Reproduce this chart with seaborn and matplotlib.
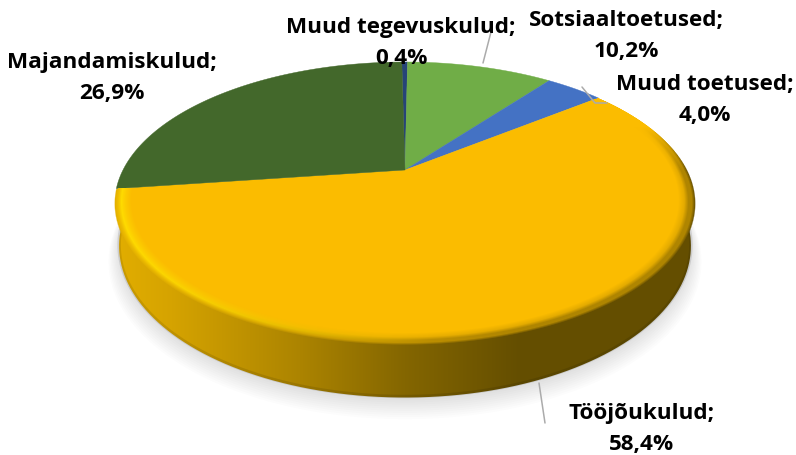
import matplotlib
matplotlib.use("Agg")
import matplotlib.pyplot as plt
import matplotlib.colors as mc
from matplotlib.patches import PathPatch
from matplotlib.path import Path
import numpy as np
import seaborn as sns

names = ["Muud tegevuskulud", "Sotsiaaltoetused", "Muud toetused", "Tööjõukulud", "Majandamiskulud"]
values = [0.4, 10.2, 4.0, 58.4, 26.9]
labels = ["0,4%", "10,2%", "4,0%", "58,4%", "26,9%"]
colors = ["#264478", "#70AD47", "#4472C4", "#FBBC00", "#43682B"]
label_pos = [(401, 43), (626, 36), (705, 100), (642, 429), (112, 78)]

sns.set_theme(style="white")
plt.rcParams["font.family"] = ["Open Sans", "DejaVu Sans"]

# pie geometry, in pixels of the picture
cx, cy = 405, 170
rx, ry, k = 282, 133.6, 0.237
depth = 40
start = np.radians(-0.8)
W, H = 796, 455

def project(a, r=1.0, d=0.0):
    # a = angle clockwise from 12 o'clock, perspective gets smaller towards the back
    u, v = r * np.sin(a), r * np.cos(a)
    s = 1 / (1 + k * v)
    shrink = 1 - 0.015 * d
    return cx + rx * u * s * shrink, cy - ry * v * s + depth * d * s

def side_color(x):
    f = np.clip((x - 114) / 581, 0, 1)
    xs = [0, 0.1, 0.32, 0.5, 0.7, 1]
    cs = np.array([mc.to_rgb(c) for c in ["#E2AE00", "#D5A300", "#AC8400", "#846600", "#644E00", "#644E00"]])
    return np.stack([np.interp(f, xs, cs[:, i]) for i in range(3)], axis=-1)

fig = plt.figure(figsize=(7.96, 4.55), dpi=100)
ax = fig.add_axes([0, 0, 1, 1])

edges = start + 2 * np.pi * np.cumsum([0] + values) / np.sum(values)
a0, a1 = edges[3], edges[4]

# soft shadow below the pie
full = np.linspace(0, 2 * np.pi, 361)
for grow, shift in zip(np.linspace(1.035, 1.0, 10), np.linspace(13, 3, 10)):
    u, v = project(full, grow, 1.0)
    ax.fill(u, v + shift, color="#000000", alpha=0.012, lw=0, zorder=1)

# rim of the big slice: horizontal gradient clipped to the rim outline
# (starts a bit inside the top face so no gap shows between them)
t = np.linspace(a0, a1, 400)
xt, yt = project(t, 0.96)
xb, yb = project(t, 1.0, 1.0)
rim_x = np.r_[xt, xb[::-1]]
rim_y = np.r_[yt, yb[::-1]]
rim = PathPatch(Path(np.c_[rim_x, rim_y]), facecolor="none", edgecolor="none", transform=ax.transData)
ax.add_patch(rim)
grad = side_color(np.arange(W) + 0.5)[None, :, :]
im = ax.imshow(grad, extent=(0, W, H, 0), aspect="auto", interpolation="nearest", zorder=2)
im.set_clip_path(rim)
# darker line along the bottom of the rim
ax.plot(xb, yb - 1, color="black", alpha=0.1, lw=2.5, zorder=2.5)

# top face
for i in range(len(values)):
    a = np.linspace(edges[i], edges[i + 1], 200)
    # the big slice stops short of the edge, the bevel image below covers the rest
    x, y = project(a, 0.985 if i == 3 else 1.0)
    ax.fill(np.r_[cx, x], np.r_[cy, y], color=colors[i], lw=0.3, zorder=3)

# bevel along the edge of the big slice, worked out per pixel of the picture
px, py = np.meshgrid(np.arange(W) + 0.5, np.arange(H) + 0.5)
gx, gy = (px - cx) / rx, (cy - py) / ry
u, v = gx / (1 - k * gy), gy / (1 - k * gy)
r = np.hypot(u, v)
ang = np.mod(np.arctan2(u, v) - start, 2 * np.pi) + start
base = np.array(mc.to_rgb(colors[3]))
bright = np.array(mc.to_rgb("#FFDC00"))
edge_col = side_color(px)
f = np.clip((px - 114) / 581, 0, 1)
glow = np.clip(1 - f / 0.55, 0, 1)[..., None]
front = np.clip((0.35 - v) / 0.35, 0, 1)[..., None]
edge_col = base + (edge_col - base) * front
s = np.clip((r - 0.945) / 0.055, 0, 1)[..., None]
stops = [base + 0 * glow,
         base + (bright - base) * glow * 0.5 + (edge_col - base) * (1 - glow) * 0.15,
         base + (bright - base) * glow + (edge_col - base) * (1 - glow) * 0.5,
         (base + (bright - base) * glow * 0.6) * 0.5 + edge_col * 0.5,
         edge_col]
pos = [0, 0.35, 0.6, 0.8, 1.0]
rgb = np.zeros(px.shape + (3,))
for j in range(4):
    w = np.clip((s - pos[j]) / (pos[j + 1] - pos[j]), 0, 1)
    m = (s >= pos[j]) & (s <= pos[j + 1])
    rgb = np.where(m, stops[j] + (stops[j + 1] - stops[j]) * w, rgb)
alpha = np.clip((1.0 - r) / 0.004 + 0.5, 0, 1) * (r > 0.945)
alpha = alpha * ((ang > a0) & (ang < a1))
ax.imshow(np.dstack([rgb, alpha]), extent=(0, W, H, 0), aspect="auto", interpolation="nearest", zorder=4)

ax.set_xlim(0, W)
ax.set_ylim(H, 0)
ax.axis("off")

# leader lines
grey = "#ABABAB"
ax.plot([491, 483], [32, 63], color=grey, lw=1.1, zorder=5)
ax.plot([582, 595, 607], [87, 103, 103], color=grey, lw=1.1, zorder=5)
ax.plot([539, 545], [383, 423], color=grey, lw=1.1, zorder=5)

for name, lab, (lx, ly) in zip(names, labels, label_pos):
    ax.text(lx, ly, name + ";\n" + lab, ha="center", va="center", fontsize=16.2,
            fontweight="bold", color="black", linespacing=1.58, zorder=6)

fig.savefig("out.png", dpi=100, facecolor="white")
